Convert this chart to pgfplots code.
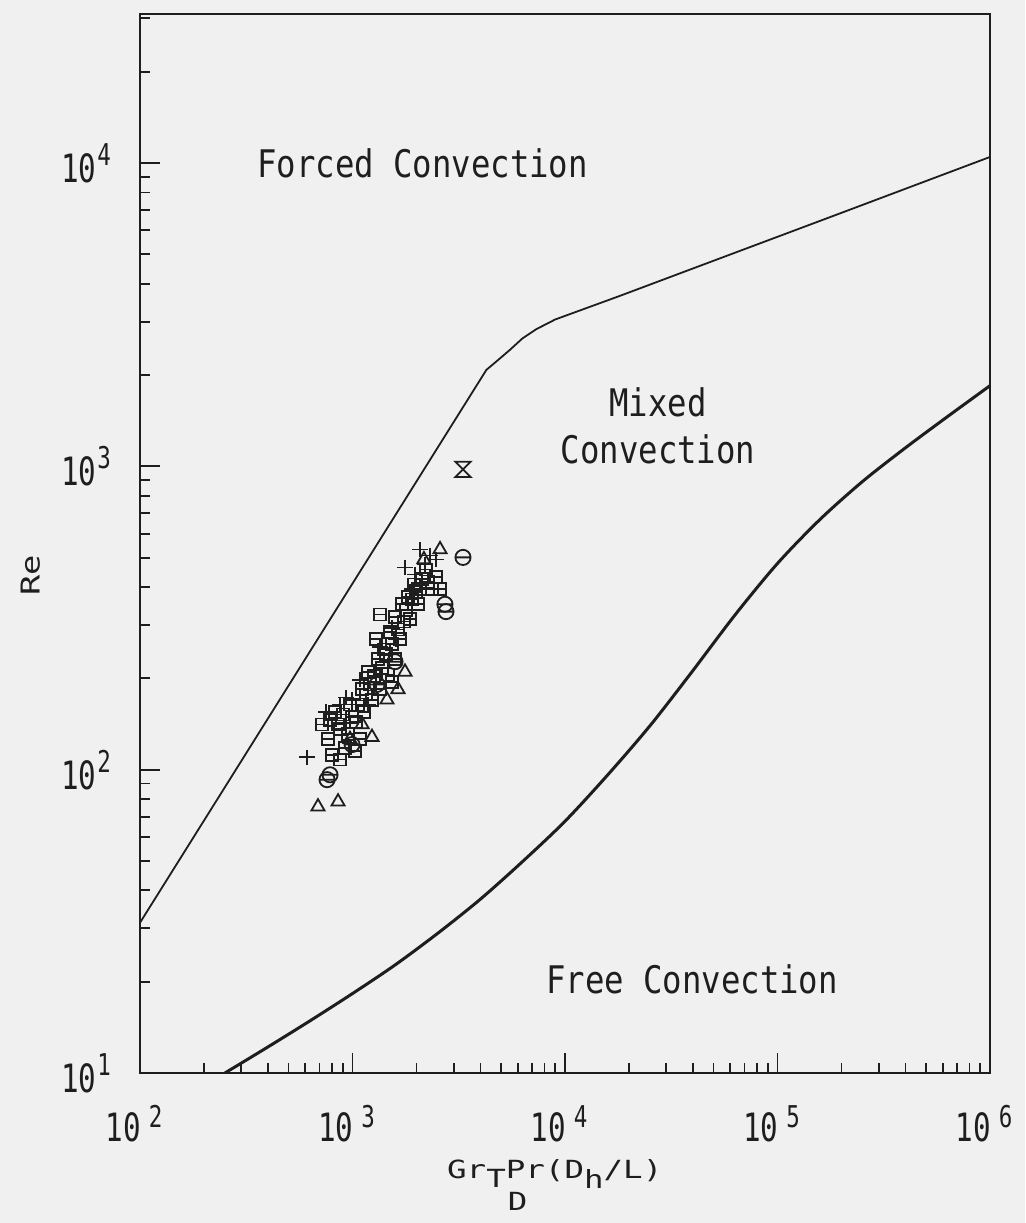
\documentclass[border=0pt]{standalone}
\usepackage{fontspec}
\setmainfont{DejaVu Sans Mono}[FakeStretch=0.85]
\newfontfamily\lblfont{DejaVu Sans Mono}[FakeStretch=1.3]
\newfontfamily\tickfont{DejaVu Sans Mono}[FakeStretch=0.75]
\usepackage{pgfplots}
\pgfplotsset{compat=1.18}
\definecolor{bg}{RGB}{240,240,240}
\definecolor{ink}{RGB}{30,30,30}
\pgfdeclareplotmark{hourglass}{%
 \pgfpathmoveto{\pgfqpoint{-\pgfplotmarksize}{\pgfplotmarksize}}%
 \pgfpathlineto{\pgfqpoint{\pgfplotmarksize}{\pgfplotmarksize}}%
 \pgfpathlineto{\pgfqpoint{-\pgfplotmarksize}{-\pgfplotmarksize}}%
 \pgfpathlineto{\pgfqpoint{\pgfplotmarksize}{-\pgfplotmarksize}}%
 \pgfpathclose\pgfusepathqstroke}
\pgfdeclareplotmark{theta}{%
 \pgfpathcircle{\pgfpointorigin}{\pgfplotmarksize}%
 \pgfpathmoveto{\pgfqpoint{-\pgfplotmarksize}{0pt}}%
 \pgfpathlineto{\pgfqpoint{\pgfplotmarksize}{0pt}}%
 \pgfusepathqstroke}
\pgfdeclareplotmark{boxbar}{%
 \pgfpathrectangle{\pgfqpoint{-\pgfplotmarksize}{-\pgfplotmarksize}}{\pgfqpoint{2\pgfplotmarksize}{2\pgfplotmarksize}}%
 \pgfpathmoveto{\pgfqpoint{-\pgfplotmarksize}{0pt}}%
 \pgfpathlineto{\pgfqpoint{\pgfplotmarksize}{0pt}}%
 \pgfusepathqstroke}
\newcommand\xl[1]{10\raisebox{7.5pt}{\kern4pt\fontsize{15}{15}\selectfont #1}}
\newcommand\yl[1]{10\raisebox{8.5pt}{\kern0.5pt\fontsize{15}{15}\selectfont #1}}
\begin{document}
\begin{tikzpicture}
\path[fill=bg, use as bounding box] (-70pt,-75pt) rectangle (442.5pt,536.5pt);
\begin{axis}[
  at={(0,0)}, anchor=south west,
  scale only axis, width=425pt, height=529.5pt,
  xmode=log, ymode=log,
  xmin=100, xmax=1e6, ymin=10, ymax=3.1e4,
  axis line style={line width=1.2pt, ink},
  tick align=inside, xtick pos=bottom, ytick pos=left,
  major tick length=10pt, minor tick length=5pt,
  tick style={line width=0.9pt, ink},
  xtick={100,1000,10000,100000,1000000},
  xticklabels={\xl{2},\xl{3},\xl{4},\xl{5},\xl{6}},
  minor xtick={200,300,400,500,600,700,800,900,2000,3000,4000,5000,6000,7000,8000,9000,20000,30000,40000,50000,60000,70000,80000,90000,200000,300000,400000,500000,600000,700000,800000,900000},
  ytick={10,100,1000,10000},
  yticklabels={\yl{1},\yl{2},\yl{3},\yl{4}},
  minor ytick={20,30,40,50,60,70,80,90,200,300,400,500,600,700,800,900,2000,3000,4000,5000,6000,7000,8000,9000,20000,30000},
  xticklabel style={anchor=base, yshift=-34.5pt, xshift=-3pt, font=\tickfont\fontsize{19.5}{19.5}\selectfont, text=ink},
  yticklabel style={anchor=east, xshift=-11pt, font=\tickfont\fontsize{19.5}{19.5}\selectfont, text=ink},
  xlabel={Gr\raisebox{-4.5pt}{T}\rlap{\kern1pt\raisebox{-16pt}{D}}Pr(D\raisebox{-5pt}{h}/L)},
  xlabel style={at={(axis description cs:0.353,-0.1)}, anchor=base west, font=\lblfont\fontsize{12.5}{12.5}\selectfont, text=ink},
  ylabel={Re},
  ylabel style={at={(axis description cs:-0.129,0.47)}, anchor=center, font=\lblfont\fontsize{13}{13}\selectfont, text=ink},
]
% upper boundary (forced / mixed)
\addplot[ink, line width=0.9pt] coordinates {(100,31.3) (4266,2080) (4800,2230) (5500,2420) (6300,2640) (7311,2831) (9000,3050) (17950,3639) (57150,4932) (181970,6683) (1000000,10471)};
% lower boundary (mixed / free)
\addplot[ink, line width=1.5pt, smooth] coordinates {(251,10) (398,12.16) (631,14.86) (1000,18.28) (1585,22.70) (2512,28.84) (3981,37.33) (6310,49.77) (10000,67.61) (15849,95.94) (25119,139.6) (39811,211.3) (63096,323.6) (100000,478.6) (158489,668.3) (251189,891.3) (398107,1148) (630957,1459) (1000000,1845)};
% data: squares
\addplot[only marks, mark=boxbar, mark size=3pt, ink, line width=0.9pt] coordinates {
(718,141) (767,126) (827,155) (873,136) (922,118) (801,112) (973,164) (1038,144) (1109,184) (1183,210)
(1235,170) (1318,231) (1406,249) (1290,269) (1501,285) (1585,318) (1675,269) (1710,351) (1824,370) (1947,408)
(2080,393) (2218,457) (1866,313) (1469,206) (1085,126) (1585,231) (1346,325) (2032,351) (2366,393) (2582,393)
(784,146) (855,141) (902,152) (953,131) (995,149) (1062,164) (1133,155) (1158,177) (1208,191) (1262,204)
(1377,217) (1438,240) (1535,259) (1637,290) (1746,308) (1786,337) (1905,364) (1990,386) (2123,424) (2265,417)
(2472,431) (1346,184) (1535,195) (1028,115) (873,108)};
% triangles
\addplot[only marks, mark=triangle, mark size=3.8pt, ink, line width=0.9pt] coordinates {
(688,75.5) (855,78.4) (1109,141) (1235,128) (1637,184) (1453,170) (2582,532) (2168,493) (1766,210) (973,126)};
% plus
\addplot[only marks, mark=+, mark size=3.8pt, ink, line width=0.9pt] coordinates {
(611,110) (750,155) (873,164) (995,170) (1183,164) (1535,294) (1766,464) (2080,532) (2317,508) (1968,440) (1085,198) (1346,253)
(931,173) (1603,269) (1905,393) (2193,475) (2472,493)};
% circles
\addplot[only marks, mark=theta, mark size=3.8pt, ink, line width=0.9pt] coordinates {
(759,92.7) (784,96.2) (3311,501) (2723,351) (2754,332) (1304,191) (1585,227) (995,121)};
% hourglass
\addplot[only marks, mark=hourglass, mark size=3.8pt, ink, line width=0.9pt] coordinates {(3311,977)};
\node[anchor=west, text=ink, font=\fontsize{19}{19}\selectfont] at (axis cs:330,10000) {Forced Convection};
\node[align=center, text=ink, font=\fontsize{19}{23.5}\selectfont] at (axis cs:27400,1365) {Mixed\\Convection};
\node[text=ink, font=\fontsize{19}{19}\selectfont] at (axis cs:39600,20.3) {Free Convection};
\end{axis}
\end{tikzpicture}
\end{document}
